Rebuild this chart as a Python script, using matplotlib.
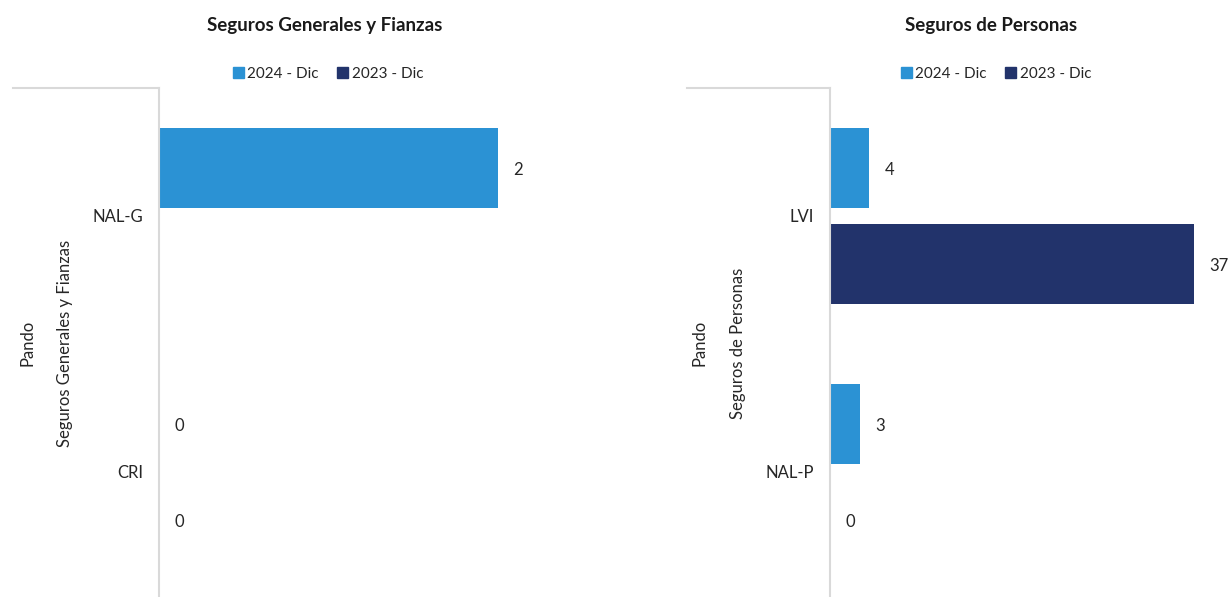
import matplotlib
matplotlib.use("Agg")
import matplotlib.pyplot as plt
from matplotlib.lines import Line2D
from matplotlib.patches import Patch
import numpy as np

plt.rcParams['font.family'] = ['Lato', 'DejaVu Sans']

series = ["2024 - Dic", "2023 - Dic"]
colors = ["#2B92D4", "#22336B"]

left_title = "Seguros Generales y Fianzas"
left_cats = ["NAL-G", "CRI"]
left_2024 = [2, 0]
left_2023 = [np.nan, 0]

right_title = "Seguros de Personas"
right_cats = ["LVI", "NAL-P"]
right_2024 = [4, 3]
right_2023 = [37, 0]

outer_label = "Pando"

W, H = 1231, 597
fig = plt.figure(figsize=(W / 100, H / 100), dpi=100)
txt = "#262626"
grid_c = "#D9D9D9"
FS = 12


def fx(px):
    return px / W


def fy(py):
    return 1 - py / H


def panel(x0, x1, xmax, cats, v24, v23, title, group_label, title_x, leg_x, outer_x, group_x, line_x0):
    ax = fig.add_axes([fx(x0), fy(600), fx(x1 - x0), (600 - 88) / H])
    ypos = np.arange(len(cats))
    off = 0.1875
    h = 0.3125
    for vals, col, d in [(v24, colors[0], -off), (v23, colors[1], off)]:
        for y, v in zip(ypos, vals):
            if np.isnan(v):
                continue
            ax.barh(y + d, v, height=h, color=col)
            ax.annotate(f"{v:g}", xy=(v, y + d), xytext=(11, -1.5), textcoords="offset points",
                        va="center", ha="left", fontsize=FS, color=txt)
    ax.set_ylim(len(cats) - 0.5, -0.5)
    ax.set_xlim(0, xmax)
    for s in ["top", "right", "bottom"]:
        ax.spines[s].set_visible(False)
    ax.spines["left"].set_color(grid_c)
    ax.spines["left"].set_linewidth(1.5)
    ax.set_xticks([])
    ax.set_yticks(ypos)
    ax.set_yticklabels(cats, fontsize=FS, color=txt)
    ax.tick_params(axis="y", length=0, pad=11.5)
    # top bracket line
    fig.add_artist(Line2D([fx(line_x0), fx(x0)], [fy(88), fy(88)], color=grid_c, lw=1.5))
    # titles & labels
    fig.text(fx(title_x), fy(25), title, ha="center", va="center", fontsize=13.5,
             fontweight="bold", color="#1a1a1a")
    fig.text(fx(outer_x), fy(343), outer_label, rotation=90, ha="center", va="center",
             fontsize=FS, color=txt)
    fig.text(fx(group_x), fy(343), group_label, rotation=90, ha="center", va="center",
             fontsize=FS, color=txt)
    handles = [Patch(color=c, label=s) for c, s in zip(colors, series)]
    fig.legend(handles=handles, loc="center", bbox_to_anchor=(fx(leg_x), fy(74)), ncol=2,
               frameon=False, fontsize=11, handlelength=0.7, handleheight=0.7,
               handletextpad=0.25, columnspacing=1.2, labelcolor=txt)
    return ax


panel(159, 560, 2 * 401 / 339, left_cats, left_2024, left_2023, left_title, left_title,
      325, 328, 28, 65, 13)
panel(830, 1210, 380 / 9.84, right_cats, right_2024, right_2023, right_title, right_title,
      991, 996, 700, 738, 687)

fig.savefig("out.png", dpi=100)
